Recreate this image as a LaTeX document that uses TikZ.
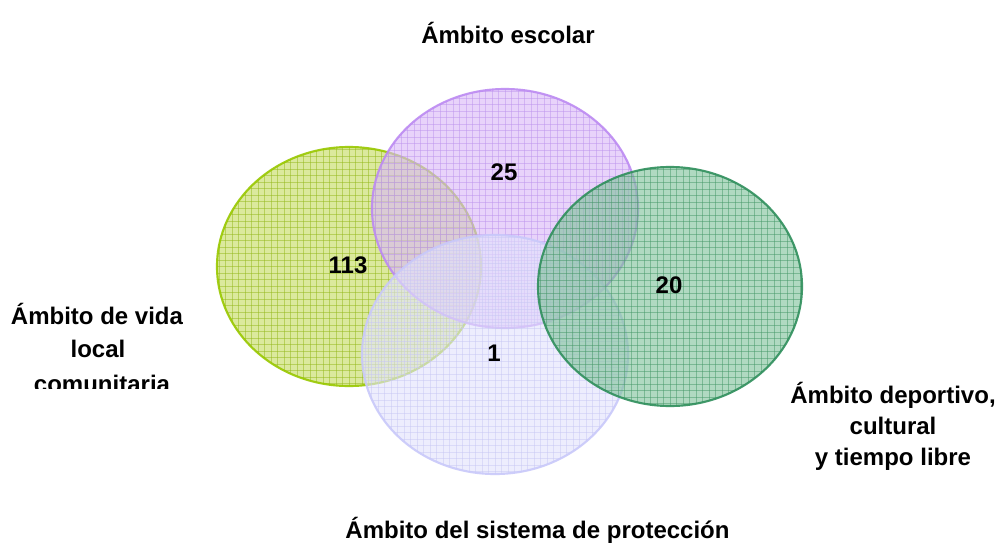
\documentclass[tikz,border=0pt]{standalone}
\usepackage{fontspec}
\setmainfont{Liberation Sans}
\begin{document}
\begin{tikzpicture}[x=0.75pt,y=-0.75pt,
  num/.style={font=\bfseries\fontsize{18}{24}\selectfont, inner sep=0pt, anchor=base}]
\definecolor{gE}{HTML}{99C800}\definecolor{gF}{HTML}{C6DC62}\definecolor{gG}{HTML}{94B81A}
\definecolor{pE}{HTML}{BC8AF2}\definecolor{pF}{HTML}{DAB9F8}\definecolor{pG}{HTML}{BE94EE}
\definecolor{lE}{HTML}{C9C9FA}\definecolor{lF}{HTML}{E3E3FD}\definecolor{lG}{HTML}{C8C8F4}
\definecolor{tE}{HTML}{2F8F5C}\definecolor{tF}{HTML}{80C29B}\definecolor{tG}{HTML}{459868}
\useasboundingbox (0,0) rectangle (998,543);
\fill[white] (0,0) rectangle (998,543);
\newcommand{\venn}[6]{%
  \fill[#4, fill opacity=0.62] (#1,#2) ellipse [x radius=#3*0.75pt, y radius=119.5*0.75pt];
  \begin{scope}
    \clip (#1,#2) ellipse [x radius=#3*0.75pt, y radius=119.5*0.75pt];
    \foreach \k in {-21,...,21} {
      \draw[#5, line width=0.45pt, opacity=0.5] (#1+\k*6.5,#2-125) -- (#1+\k*6.5,#2+125);
    }
    \foreach \k in {-19,...,19} {
      \draw[#5, line width=0.45pt, opacity=0.5] (#1-140,#2+\k*6.5) -- (#1+140,#2+\k*6.5);
    }
  \end{scope}
  \draw[#6, line width=1.6pt, opacity=0.9] (#1,#2) ellipse [x radius=#3*0.75pt, y radius=119.5*0.75pt];
}
\venn{349}{266.5}{132}{gF}{gG}{gE}
\venn{505}{208.5}{133}{pF}{pG}{pE}
\venn{495}{354.5}{133}{lF}{lG}{lE}
\venn{670}{286.5}{132}{tF}{tG}{tE}
\node[num] (n113) at (348,273) {113};
\node[num] (n25) at (504,180) {25};
\node[num] (n20) at (669,293) {20};
\node[num] (n1) at (494,361) {1};
\node[num] (escolar) at (508,43) {Ámbito escolar};
\node[num] (proteccion) at (537.5,538) {Ámbito del sistema de protección};
\node[num] (dep1) at (893,403) {Ámbito deportivo,};
\node[num] (dep2) at (893,434) {cultural};
\node[num] (dep3) at (893,465) {y tiempo libre};
\begin{scope}
  \clip (0,0) rectangle (300,388);
  \node[num] (vida1) at (97,324) {Ámbito de vida};
  \node[num] (vida2) at (98,357) {local};
  \node[num] (vida3) at (102,392) {comunitaria};
\end{scope}
\end{tikzpicture}
\end{document}
